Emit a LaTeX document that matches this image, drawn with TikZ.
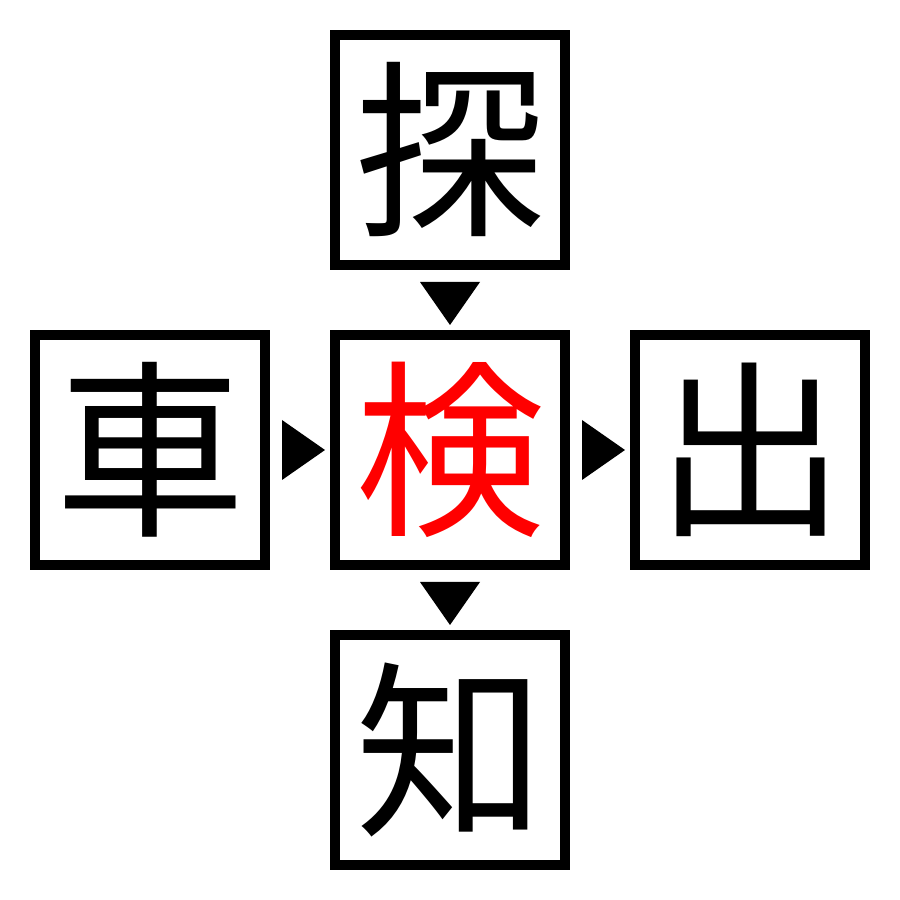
\documentclass[tikz,border=0pt]{standalone}
\usepackage{fontspec}
\newfontfamily\cjk{Noto Sans CJK JP}
\usetikzlibrary{calc}
\tikzset{
	box/.style={draw,line width=0.1cm,minimum size=2.3cm,inner sep=0pt,font=\cjk\fontsize{54}{54}\selectfont},
	tri/.style={fill=black}
}
\begin{document}
\begin{tikzpicture}
	\useasboundingbox (0,0) rectangle (9,9);
	\node [box] (tan) at (4.5, 7.5) {探};
	\node [box] (sha) at (1.5, 4.5) {車};
	\node [box,text=red] (ken) at (4.5, 4.5) {検};
	\node [box] (shu) at (7.5, 4.5) {出};
	\node [box] (chi) at (4.5, 1.5) {知};

	\fill [tri] ($(tan.south)+(-0.3,-0.12)$) -- ($(tan.south)+(0.3,-0.12)$) -- ($(ken.north)+(0,0.05)$) -- cycle;
	\fill [tri] ($(ken.south)+(-0.3,-0.12)$) -- ($(ken.south)+(0.3,-0.12)$) -- ($(chi.north)+(0,0.05)$) -- cycle;
	\fill [tri] ($(sha.east)+(0.12,0.3)$) -- ($(sha.east)+(0.12,-0.3)$) -- ($(ken.west)+(-0.05,0)$) -- cycle;
	\fill [tri] ($(ken.east)+(0.12,0.3)$) -- ($(ken.east)+(0.12,-0.3)$) -- ($(shu.west)+(-0.05,0)$) -- cycle;
\end{tikzpicture}
\end{document}
